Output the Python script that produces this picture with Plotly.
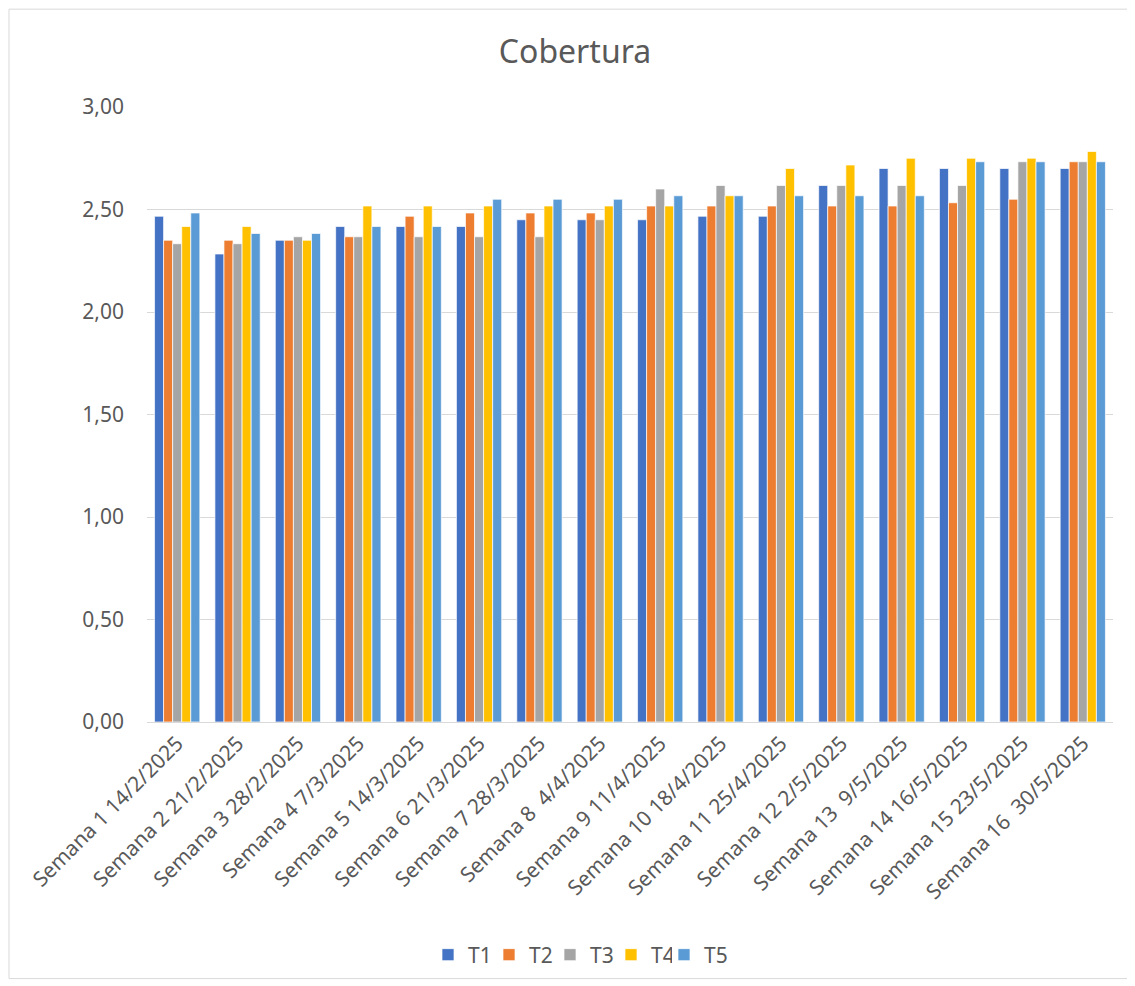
import plotly.graph_objects as go

categories = [
    "Semana 1 14/2/2025", "Semana 2 21/2/2025", "Semana 3 28/2/2025",
    "Semana 4 7/3/2025", "Semana 5 14/3/2025", "Semana 6 21/3/2025",
    "Semana 7 28/3/2025", "Semana 8  4/4/2025", "Semana 9 11/4/2025",
    "Semana 10 18/4/2025", "Semana 11 25/4/2025", "Semana 12 2/5/2025",
    "Semana 13  9/5/2025", "Semana 14 16/5/2025", "Semana 15 23/5/2025",
    "Semana 16  30/5/2025",
]

t1 = [2.467, 2.283, 2.350, 2.417, 2.417, 2.417, 2.450, 2.450, 2.450, 2.467, 2.467, 2.617, 2.700, 2.700, 2.700, 2.700]
t2 = [2.350, 2.350, 2.350, 2.367, 2.467, 2.483, 2.483, 2.483, 2.517, 2.517, 2.517, 2.517, 2.517, 2.533, 2.550, 2.733]
t3 = [2.333, 2.333, 2.367, 2.367, 2.367, 2.367, 2.367, 2.450, 2.600, 2.617, 2.617, 2.617, 2.617, 2.617, 2.733, 2.733]
t4 = [2.417, 2.417, 2.350, 2.517, 2.517, 2.517, 2.517, 2.517, 2.517, 2.567, 2.700, 2.717, 2.750, 2.750, 2.750, 2.783]
t5 = [2.483, 2.383, 2.383, 2.417, 2.417, 2.550, 2.550, 2.550, 2.567, 2.567, 2.567, 2.567, 2.567, 2.733, 2.733, 2.733]

series = [("T1", t1, "#4472C4"), ("T2", t2, "#ED7D31"), ("T3", t3, "#A5A5A5"),
          ("T4", t4, "#FFC000"), ("T5", t5, "#5B9BD5")]

FONT = "Noto Sans"
GREY = "#595959"

# page offset of 8px (body margin) compensated in figure size / margins
W, H = 1127, 978
L, T, R, B = 139, 99, 22, 263
PW = W - L - R
PH = H - T - B

def px_x(p):  # page pixel -> paper x
    return (p - 8 - L) / PW

def px_y(p):  # page pixel -> paper y
    return (H - B - (p - 8)) / PH

fig = go.Figure()
for i, (name, vals, color) in enumerate(series):
    fig.add_trace(go.Bar(
        x=categories, y=vals, name=name,
        legend="legend2" if i == len(series) - 1 else "legend",
        marker=dict(color=color, line=dict(color="white", width=0.7)),
    ))

legend_common = dict(orientation="h", yanchor="middle", y=px_y(955),
                     xanchor="left", font=dict(family=FONT, size=21, color=GREY),
                     itemwidth=30, traceorder="normal", bgcolor="rgba(0,0,0,0)")

fig.update_layout(
    width=W, height=H,
    paper_bgcolor="white", plot_bgcolor="white",
    margin=dict(l=L, r=R, t=T, b=B),
    barmode="group", bargap=0.25, bargroupgap=0.0,
    separators=",.",
    font=dict(family=FONT, color=GREY, size=21),
    title=dict(text="Cobertura", x=(575 - 8) / W, xanchor="center",
               y=1 - (52 - 8) / H, yanchor="middle",
               font=dict(family=FONT, size=32, color=GREY)),
    legend=dict(**legend_common, x=px_x(428),
                entrywidth=16, entrywidthmode="pixels"),
    legend2=dict(**legend_common, x=px_x(664)),
    xaxis=dict(tickangle=-45, showgrid=False, showline=True, linecolor="#D9D9D9",
               linewidth=1, ticks="", tickfont=dict(family=FONT, size=21, color=GREY)),
    yaxis=dict(range=[0, 3], dtick=0.5, tickformat=".2f", showgrid=True,
               gridcolor="#D9D9D9", gridwidth=1, zeroline=False, showline=False,
               ticks="", ticklabelstandoff=22,
               tickfont=dict(family=FONT, size=21, color=GREY)),
    shapes=[dict(type="rect", xref="paper", yref="paper",
                 x0=px_x(9), x1=px_x(1128),
                 y0=px_y(980), y1=px_y(9),
                 line=dict(color="#D9D9D9", width=1), layer="below")],
)

fig.write_html("out.html")
